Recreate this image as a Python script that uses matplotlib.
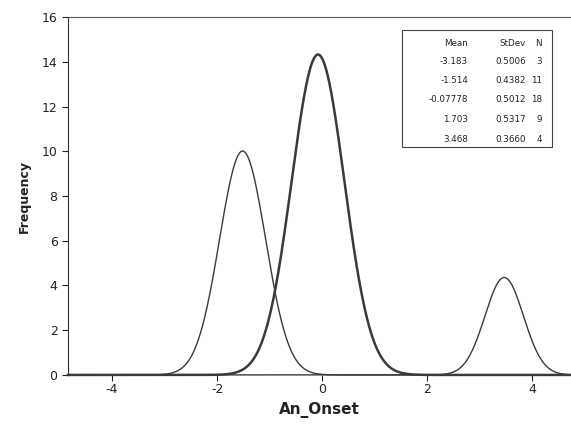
import numpy as np
import matplotlib
matplotlib.use('Agg')
import matplotlib.pyplot as plt

# fitted normal curves per group (Minitab style table)
means = [-3.183, -1.514, -0.07778, 1.703, 3.468]
stdevs = [0.5006, 0.4382, 0.5012, 0.5317, 0.3660]
counts = [3, 11, 18, 9, 4]
mean_labels = ['-3.183', '-1.514', '-0.07778', '1.703', '3.468']
stdev_labels = ['0.5006', '0.4382', '0.5012', '0.5317', '0.3660']
shown = [1, 2, 4]          # curves that actually appear in the picture
line_w = {1: 1.0, 2: 1.8, 4: 1.0}
bin_width = 1.0

plt.rcParams['axes.unicode_minus'] = False

W, H = 571, 429
fig = plt.figure(figsize=(W / 100, H / 100), dpi=100)
ax = fig.add_axes([0.119, 0.126, 0.881, 0.834])

x = np.linspace(-4.84, 4.74, 800)
for i in shown:
    m, s, n = means[i], stdevs[i], counts[i]
    y = n * bin_width * np.exp(-0.5 * ((x - m) / s) ** 2) / (s * np.sqrt(2 * np.pi))
    ax.plot(x, y, color='#3a3a3a', lw=line_w[i], clip_on=False)

ax.set_xlim(-4.84, 4.74)
ax.set_ylim(0, 16)
ax.set_xticks([-4, -2, 0, 2, 4])
ax.set_yticks(range(0, 17, 2))
ax.spines['right'].set_visible(False)
ax.spines['bottom'].set_visible(False)
ax.spines['left'].set_color('#333333')
ax.spines['top'].set_color('#555555')
ax.tick_params(axis='both', labelsize=9, colors='#222222', length=4, width=0.8)
ax.tick_params(axis='x', pad=2)
ax.set_xlabel('An_Onset', fontsize=11, fontweight='bold', color='#222222', labelpad=4)
ax.set_ylabel('Frequency', fontsize=9, fontweight='bold', color='#222222', labelpad=8)

# legend table (pixel positions measured from top-left)
box = plt.Rectangle((402 / W, 1 - 147 / H), 150 / W, 117 / H,
                    transform=fig.transFigure, fill=False,
                    edgecolor='#444444', lw=0.8)
fig.patches.append(box)


def put(px, py, s):
    fig.text(px / W, 1 - py / H, s, ha='right', va='center',
             fontsize=6.3, color='#222222')


put(468, 43, 'Mean')
put(526, 43, 'StDev')
put(542, 43, 'N')
for k in range(len(means)):
    yy = 61 + k * 19.5
    put(468, yy, mean_labels[k])
    put(526, yy, stdev_labels[k])
    put(542, yy, str(counts[k]))

fig.savefig('out.png', dpi=100)
